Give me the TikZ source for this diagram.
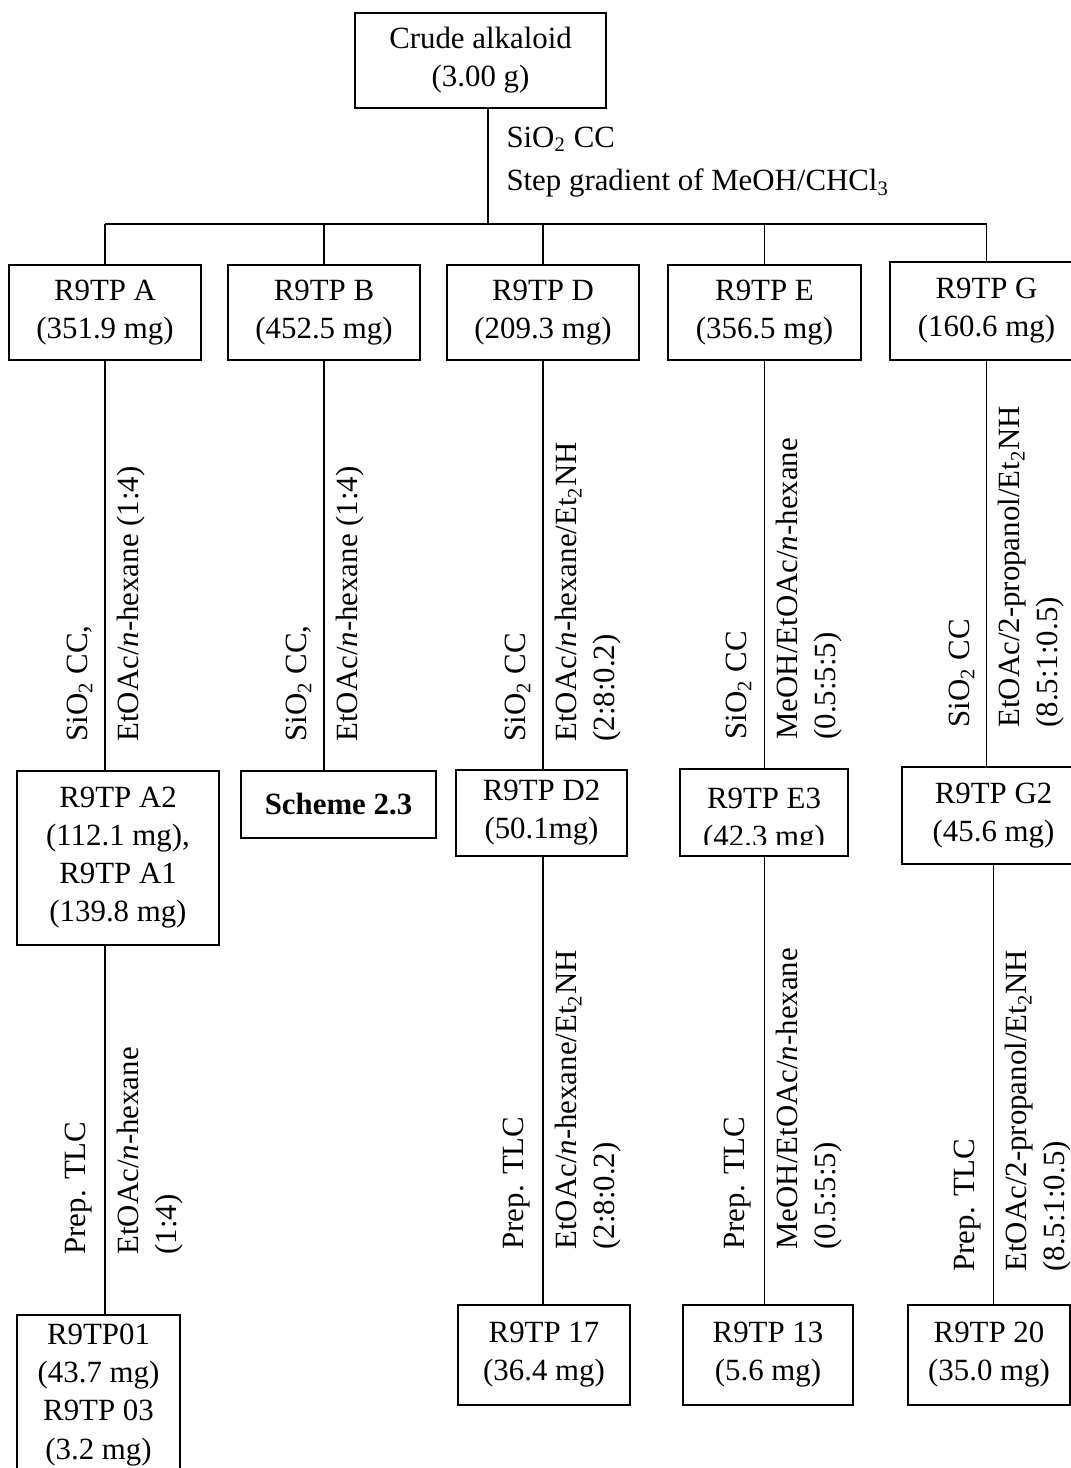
\documentclass[tikz,border=0pt]{standalone}
\usepackage{fontspec}
\setmainfont{Liberation Serif}
\usepackage{tikz}
\usetikzlibrary{positioning}

\newcommand{\pxw}{0.389pt}
\newcommand{\bodyfont}{\fontsize{12pt}{14.8pt}\selectfont}
\tikzset{
    box/.style={draw, line width=0.6pt, align=center, inner sep=0pt, font=\bodyfont},
    boxsize/.style 2 args={minimum width=#1*\pxw, minimum height=#2*\pxw},
    lab/.style={rotate=90, inner sep=0pt, align=left, font=\bodyfont},
    link/.style={line width=0.6pt}
}

\begin{document}
\begin{tikzpicture}[x=\pxw, y=-\pxw]
    % 範囲
    \clip (0,0) rectangle (1071,1468);

    % 原料
    \node[box, boxsize={251}{95}] (crude) at (480.5,60.5) {Crude alkaloid\\(3.00 g)};
    \coordinate (split) at (488,224);
    \draw[link] (crude.south -| split) -- (split);
    \node[anchor=west, inner sep=0pt, align=left, font=\bodyfont] (cc0) at (506,162)
        {SiO\textsubscript{2} CC\\[2pt]Step gradient of MeOH/CHCl\textsubscript{3}};

    % 第1段 (画分)
    \node[box, boxsize={192}{95}] (A) at (105,312.5) {R9TP A\\(351.9 mg)};
    \node[box, boxsize={192}{95}] (B) at (324,312.5) {R9TP B\\(452.5 mg)};
    \node[box, boxsize={192}{95}] (D) at (543,312.5) {R9TP D\\(209.3 mg)};
    \node[box, boxsize={193}{95}] (E) at (764.5,312.5) {R9TP E\\(356.5 mg)};
    \node[box, boxsize={193}{98}] (G) at (986.5,311) {R9TP G\\(160.6 mg)};
    \draw[link] (A.north |- split) -- (G.north |- split);
    \foreach \n in {A,B,D,E,G}
        \draw[link] (\n.north |- split) -- (\n.north);

    % 第2段
    \node[box, boxsize={202}{174}] (A2) at (118,858) {R9TP A2\\(112.1 mg),\\R9TP A1\\(139.8 mg)};
    \node[box, boxsize={195}{67}, font=\bodyfont\bfseries] (sch) at (338.5,804.5) {Scheme 2.3};
    \node[box, boxsize={171}{86}] (D2) at (541.5,813) {R9TP D2\\(50.1mg)};
    \node[box, boxsize={168}{87}] (E3) at (764,812.5) {\rule{0pt}{14pt}R9TP E3\\(42.3 mg)};
    \node[box, boxsize={183}{97}] (G2) at (993.5,815.5) {R9TP G2\\(45.6 mg)};
    % E3 の文字下端が切れている
    \coordinate (cut) at (0,845);
    \fill[white] ([shift={(0.5pt,0.5pt)}]E3.south west) rectangle ([xshift=-0.5pt]E3.east |- cut);

    \draw[link] (A.south) -- (A.south |- A2.north);
    \draw[link] (B.south) -- (B.south |- sch.north);
    \draw[link] (D.south) -- (D.south |- D2.north);
    \draw[link] (E.south) -- (E.south |- E3.north);
    \draw[link] (G.south) -- (G.south |- G2.north);

    % 第1段の条件
    \node[lab, anchor=south west] (cA1) at (93,742) {SiO\textsubscript{2} CC,};
    \node[lab, anchor=north west] (sA1) at (117,742) {EtOAc/\textit{n}-hexane (1:4)};
    \node[lab, anchor=south west] (cB1) at (312,742) {SiO\textsubscript{2} CC,};
    \node[lab, anchor=north west] (sB1) at (336,742) {EtOAc/\textit{n}-hexane (1:4)};
    \node[lab, anchor=south west] (cD1) at (531,742) {SiO\textsubscript{2} CC};
    \node[lab, anchor=north west] (sD1) at (555,742) {EtOAc/\textit{n}-hexane/Et\textsubscript{2}NH\\(2:8:0.2)};
    \node[lab, anchor=south west] (cE1) at (752,740) {SiO\textsubscript{2} CC};
    \node[lab, anchor=north west] (sE1) at (776,740) {MeOH/EtOAc/\textit{n}-hexane\\(0.5:5:5)};
    \node[lab, anchor=south west] (cG1) at (975,728) {SiO\textsubscript{2} CC};
    \node[lab, anchor=north west] (sG1) at (998,728) {EtOAc/2-propanol/Et\textsubscript{2}NH\\(8.5:1:0.5)};

    % 第3段 (化合物)
    \node[box, boxsize={163}{160}] (c01) at (98.5,1395) {R9TP01\\(43.7 mg)\\R9TP 03\\(3.2 mg)};
    \node[box, boxsize={172}{100}] (c17) at (544,1355) {R9TP 17\\(36.4 mg)};
    \node[box, boxsize={170}{100}] (c13) at (768,1355) {R9TP 13\\(5.6 mg)};
    \node[box, boxsize={162}{100}] (c20) at (989,1355) {R9TP 20\\(35.0 mg)};

    \draw[link] (A2.south -| A.south) -- (c01.north -| A.south);
    \draw[link] (D2.south -| D.south) -- (c17.north -| D.south);
    \draw[link] (E3.south -| E.south) -- (c13.north -| E.south);
    \draw[link] (G2.south) -- (G2.south |- c20.north);

    % 第2段の条件
    \node[lab, anchor=south west] (cA2) at (93,1255) {Prep. TLC};
    \node[lab, anchor=north west] (sA2) at (117,1255) {EtOAc/\textit{n}-hexane\\(1:4)};
    \node[lab, anchor=south west] (cD2) at (531,1250) {Prep. TLC};
    \node[lab, anchor=north west] (sD2) at (555,1250) {EtOAc/\textit{n}-hexane/Et\textsubscript{2}NH\\(2:8:0.2)};
    \node[lab, anchor=south west] (cE2) at (752,1250) {Prep. TLC};
    \node[lab, anchor=north west] (sE2) at (776,1250) {MeOH/EtOAc/\textit{n}-hexane\\(0.5:5:5)};
    \node[lab, anchor=south west] (cG2) at (982,1272) {Prep. TLC};
    \node[lab, anchor=north west] (sG2) at (1005,1272) {EtOAc/2-propanol/Et\textsubscript{2}NH\\(8.5:1:0.5)};
\end{tikzpicture}
\end{document}
